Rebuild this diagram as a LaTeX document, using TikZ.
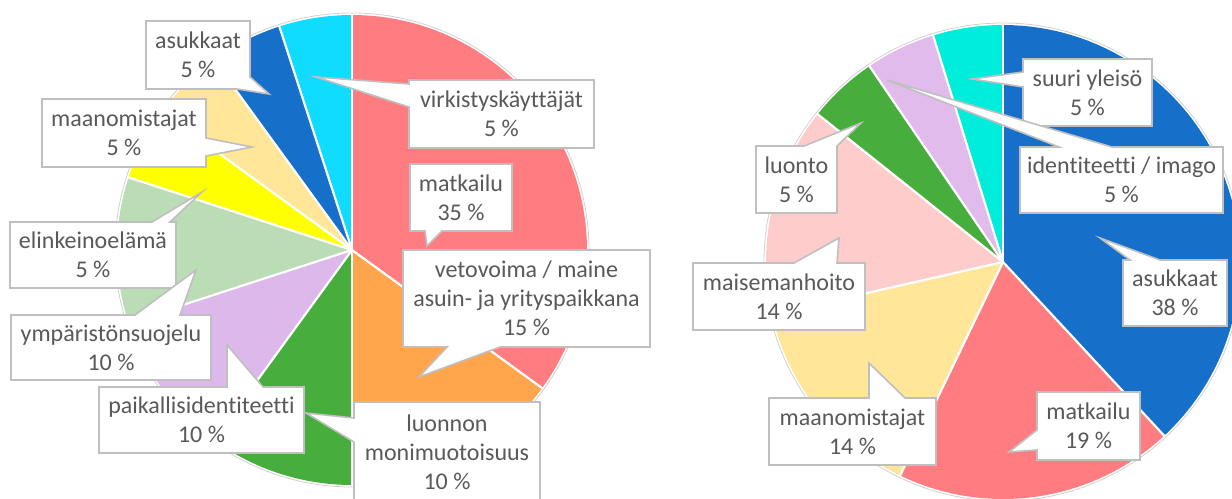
\documentclass[tikz,border=0pt]{standalone}
\usepackage{fontspec}
\setmainfont[Ligatures={NoCommon,NoRequired,NoContextual}]{Carlito}
\definecolor{cRed}{HTML}{FF7C80}
\definecolor{cOrange}{HTML}{FFA64D}
\definecolor{cDGreen}{HTML}{47AD3C}
\definecolor{cLav}{HTML}{DDB8EA}
\definecolor{cLGreen}{HTML}{BADDB5}
\definecolor{cYellow}{HTML}{FFFF00}
\definecolor{cTan}{HTML}{FFE699}
\definecolor{cBlue}{HTML}{1670C9}
\definecolor{cCyan}{HTML}{10DCFF}
\definecolor{cPink}{HTML}{FFCCCC}
\definecolor{cLav2}{HTML}{E0BBEB}
\definecolor{cTurq}{HTML}{00EDDB}
\definecolor{cText}{HTML}{595959}
\definecolor{cBorder}{HTML}{BFBFBF}
\tikzset{
  cshape/.style={fill=white, draw=cBorder, line width=1.6bp, line join=miter},
  ctext/.style={inner sep=0pt, align=center, text=cText, font=\fontsize{24bp}{29bp}\selectfont},
  sep/.style={white, line width=2.2bp},
  rim/.style={draw=black!18, line width=0.8bp}
}
% slice: center x, center y, radius, start (cw from top), end, colour
\newcommand\pieslice[6]{%
  \fill[#6] (#1,#2) -- plot[domain=#4:#5, samples=60, variable=\t]
    ({#1+#3*cos(\t-90)},{#2+#3*sin(\t-90)}) -- cycle;}
\newcommand\piesep[4]{%
  \draw[sep] (#1,#2) -- ({#1+#3*cos(#4-90)},{#2+#3*sin(#4-90)});}
\begin{document}
\begin{tikzpicture}[x=1bp,y=-1bp]
\useasboundingbox (0,0) rectangle (1232,499);
\begin{scope}
\clip (0,0) rectangle (1232,499);
% ---------------- left pie ----------------
\coordinate (L) at (352,250);
\draw[rim] (L) circle[radius=237];
\pieslice{352}{250}{235}{0}{126}{cRed}
\pieslice{352}{250}{235}{126}{180}{cOrange}
\pieslice{352}{250}{235}{180}{216}{cDGreen}
\pieslice{352}{250}{235}{216}{252}{cLav}
\pieslice{352}{250}{235}{252}{288}{cLGreen}
\pieslice{352}{250}{235}{288}{306}{cYellow}
\pieslice{352}{250}{235}{306}{324}{cTan}
\pieslice{352}{250}{235}{324}{342}{cBlue}
\pieslice{352}{250}{235}{342}{360}{cCyan}
\foreach \a in {0,126,180,216,252,288,306,324,342} {\piesep{352}{250}{236}{\a}}
% ---------------- right pie ----------------
\coordinate (R) at (1003,262);
\draw[rim] (R) circle[radius=239];
\pieslice{1003}{262}{237}{0}{137.14}{cBlue}
\pieslice{1003}{262}{237}{137.14}{205.71}{cRed}
\pieslice{1003}{262}{237}{205.71}{257.14}{cTan}
\pieslice{1003}{262}{237}{257.14}{308.57}{cPink}
\pieslice{1003}{262}{237}{308.57}{325.71}{cDGreen}
\pieslice{1003}{262}{237}{325.71}{342.86}{cLav2}
\pieslice{1003}{262}{237}{342.86}{360}{cTurq}
\foreach \a in {0,137.14,205.71,257.14,308.57,325.71,342.86} {\piesep{1003}{262}{238}{\a}}

% ---------------- left callouts ----------------
\draw[cshape] (146,21) -- (250,21) -- (250,77) -- (269,94) -- (237,89) -- (146,89) -- cycle;
\node[ctext] (la) at (198,55) {asukkaat\\5~\%};

\draw[cshape] (409,80) -- (594,80) -- (594,148) -- (409,148) -- (409,107) -- (316,77) -- (409,84) -- cycle;
\node[ctext] (lb) at (501.5,114) {virkistyskäyttäjät\\5~\%};

\draw[cshape] (42,99) -- (206,99) -- (206,138) -- (252,147) -- (206,156) -- (206,167) -- (42,167) -- cycle;
\node[ctext] (lc) at (124,133) {maanomistajat\\5~\%};

\draw[cshape] (410,164) -- (512,164) -- (512,231) -- (442,231) -- (427,246) -- (425,231) -- (410,231) -- cycle;
\node[ctext] (ld) at (461,197.5) {matkailu\\35~\%};

\draw[cshape] (10,222) -- (152,222) -- (202,192) -- (170,222) -- (176,222) -- (176,288) -- (10,288) -- cycle;
\node[ctext] (le) at (93,255) {elinkeinoelämä\\5~\%};

\draw[cshape] (403,250) -- (650,250) -- (650,347) -- (500,347) -- (419,377) -- (447,347) -- (403,347) -- cycle;
\node[ctext] (lf) at (526.5,298.5) {vetovoima / maine\\asuin- ja yrityspaikkana\\15~\%};

\draw[cshape] (11,315) -- (135,315) -- (196,270) -- (180,315) -- (211,315) -- (211,380) -- (11,380) -- cycle;
\node[ctext] (lg) at (111,347.5) {ympäristönsuojelu\\10~\%};

\draw[cshape] (99,387) -- (227,387) -- (227,345) -- (263,387) -- (304,387) -- (304,453) -- (99,453) -- cycle;
\node[ctext] (lh) at (201.5,420) {paikallisidentiteetti\\10~\%};

\draw[cshape] (354,402) -- (540,402) -- (540,510) -- (354,510) -- (354,442) -- (306,413) -- (354,418) -- cycle;
\node[ctext] (li) at (447,452) {luonnon\\monimuotoisuus\\10~\%};

% ---------------- right callouts ----------------
\draw[cshape] (1023,59) -- (1152,59) -- (1152,126) -- (1023,126) -- (1023,87) -- (972,79) -- (1023,72) -- cycle;
\node[ctext] (ra) at (1087.5,92.5) {suuri yleisö\\5~\%};

\draw[cshape] (1020,147) -- (1059,147) -- (887,80) -- (1112,147) -- (1223,147) -- (1223,213) -- (1020,213) -- cycle;
\node[ctext] (rb) at (1121.5,180) {identiteetti / imago\\5~\%};

\draw[cshape] (756,146) -- (804,146) -- (861,123) -- (837,146) -- (837,213) -- (756,213) -- cycle;
\node[ctext] (rc) at (796.5,179.5) {luonto\\5~\%};

\draw[cshape] (693,263) -- (794,263) -- (839,238) -- (837,263) -- (865,263) -- (865,330) -- (693,330) -- cycle;
\node[ctext] (rd) at (779,296.5) {maisemanhoito\\14~\%};

\draw[cshape] (1123,260) -- (1130,260) -- (1100,238) -- (1160,260) -- (1227,260) -- (1227,326) -- (1123,326) -- cycle;
\node[ctext] (re) at (1175,293) {asukkaat\\38~\%};

\draw[cshape] (769,398) -- (869,398) -- (869,363) -- (905,398) -- (936,398) -- (936,465) -- (769,465) -- cycle;
\node[ctext] (rf) at (852.5,431.5) {maanomistajat\\14~\%};

\draw[cshape] (1037,392) -- (1140,392) -- (1140,460) -- (1037,460) -- (1037,450) -- (1009,452) -- (1037,430) -- cycle;
\node[ctext] (rg) at (1088.5,426) {matkailu\\19~\%};
\end{scope}
\end{tikzpicture}
\end{document}
